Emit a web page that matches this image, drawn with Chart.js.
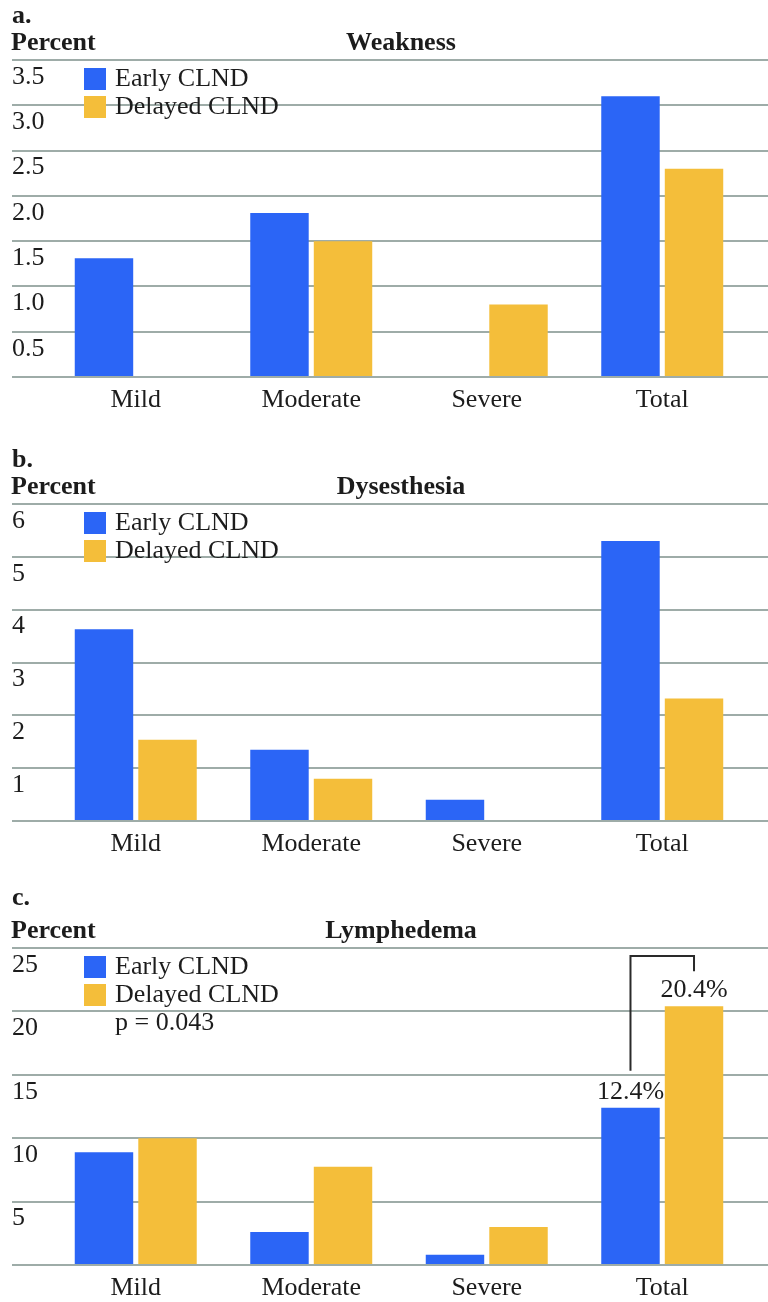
<!DOCTYPE html>
<html>
<head>
<meta charset="utf-8">
<script src="https://cdn.jsdelivr.net/npm/chart.js@4/dist/chart.umd.min.js"></script>
<style>
  html, body { margin: 0; padding: 0; background: #ffffff; width: 768px; height: 1302px; overflow: hidden; }
  canvas { display: block; }
</style>
</head>
<body>
<canvas id="weakness" width="768" height="444"></canvas>
<canvas id="dysesthesia" width="768" height="444"></canvas>
<canvas id="lymphedema" width="768" height="444"></canvas>
<script>
// Shared categories and series names
const categories = ['Mild', 'Moderate', 'Severe', 'Total'];
const seriesNames = ['Early CLND', 'Delayed CLND'];

// a. Weakness (percent)
const weaknessEarly   = [1.31, 1.81, null, 3.1];
const weaknessDelayed = [null, 1.5, 0.8, 2.3];
const weaknessTicks   = [0, 0.5, 1.0, 1.5, 2.0, 2.5, 3.0, 3.5];

// b. Dysesthesia (percent)
const dysesthesiaEarly   = [3.63, 1.35, 0.4, 5.3];
const dysesthesiaDelayed = [1.54, 0.8, null, 2.32];
const dysesthesiaTicks   = [0, 1, 2, 3, 4, 5, 6];

// c. Lymphedema (percent)
const lymphedemaEarly   = [8.9, 2.6, 0.8, 12.4];
const lymphedemaDelayed = [10.0, 7.75, 3.0, 20.4];
const lymphedemaTicks   = [0, 5, 10, 15, 20, 25];
const lymphedemaPValue  = 'p = 0.043';

const SERIF = "'Liberation Serif', 'Times New Roman', serif";
const TEXT = '#1c1c1c';
const BLUE = '#2b65f6';
const GOLD = '#f4be3a';
const GRID = '#9eaca8';
const FS = 26;

Chart.defaults.font.family = SERIF;
Chart.defaults.font.size = FS;
Chart.defaults.color = TEXT;

// Panel letter, axis caption, title, in-plot legend, note and the bracketed comparison
const panelDecor = {
  id: 'panelDecor',
  afterDraw(chart, args, opts) {
    const { ctx, chartArea: a } = chart;
    ctx.save();
    ctx.fillStyle = TEXT;
    ctx.textBaseline = 'alphabetic';
    ctx.font = `bold ${FS}px ${SERIF}`;
    ctx.textAlign = 'left';
    ctx.fillText(opts.letter, 12, opts.letterY);
    ctx.fillText('Percent', 11, 50);
    ctx.textAlign = 'center';
    ctx.fillText(opts.title, (a.left + a.right) / 2 + 2, 50);

    ctx.font = `${FS}px ${SERIF}`;
    ctx.textAlign = 'left';
    chart.data.datasets.forEach((ds, i) => {
      const top = a.top + 8 + i * 28;
      ctx.fillStyle = ds.backgroundColor;
      ctx.fillRect(a.left + 36, top, 22, 22);
      ctx.fillStyle = TEXT;
      ctx.fillText(ds.label, a.left + 67, top + 18);
    });
    if (opts.note) {
      ctx.fillText(opts.note, a.left + 67, a.top + 82);
    }

    if (opts.bracket) {
      const idx = categories.length - 1;
      const bars = [chart.getDatasetMeta(0).data[idx], chart.getDatasetMeta(1).data[idx]];
      const vals = [chart.data.datasets[0].data[idx], chart.data.datasets[1].data[idx]];
      ctx.textAlign = 'center';
      bars.forEach((bar, i) => {
        ctx.fillText(vals[i].toFixed(1) + '%', bar.x, bar.y - 9);
      });
      const topY = a.top + 8;
      ctx.strokeStyle = '#2a2a2a';
      ctx.lineWidth = 2;
      ctx.beginPath();
      ctx.moveTo(bars[0].x, bars[0].y - 37);
      ctx.lineTo(bars[0].x, topY);
      ctx.lineTo(bars[1].x, topY);
      ctx.lineTo(bars[1].x, bars[1].y - 35);
      ctx.stroke();
    }
    ctx.restore();
  }
};

function makePanel(id, early, delayed, ticks, decimals, decor) {
  const min = ticks[0];
  const max = ticks[ticks.length - 1];
  const step = ticks[1] - ticks[0];
  return new Chart(document.getElementById(id), {
    type: 'bar',
    data: {
      labels: categories,
      datasets: [
        { label: seriesNames[0], data: early, backgroundColor: BLUE, borderWidth: 0 },
        { label: seriesNames[1], data: delayed, backgroundColor: GOLD, borderWidth: 0 }
      ]
    },
    options: {
      responsive: false,
      animation: false,
      devicePixelRatio: 1,
      categoryPercentage: 0.724,
      barPercentage: 0.92,
      layout: { padding: { top: 60, left: 12, right: 0, bottom: 0 } },
      plugins: {
        legend: { display: false },
        tooltip: { enabled: false },
        panelDecor: decor
      },
      scales: {
        x: {
          grid: { display: false, drawTicks: false },
          border: { display: false },
          ticks: { padding: 8, color: TEXT, font: { size: FS } },
          afterFit(s) { s.height = 67; }
        },
        y: {
          min, max,
          grid: { color: GRID, lineWidth: 2, tickLength: 36, drawTicks: true },
          border: { display: false },
          ticks: {
            stepSize: step,
            crossAlign: 'far',
            labelOffset: 17,
            padding: 0,
            color: TEXT,
            font: { size: FS },
            callback: (v) => v === 0 ? '' : v.toFixed(decimals)
          },
          afterFit(s) { s.width = 36; }
        },
        yR: {
          type: 'linear',
          position: 'right',
          min, max,
          grid: { color: GRID, lineWidth: 2, tickLength: 18, drawOnChartArea: false, drawTicks: true },
          border: { display: false },
          ticks: { stepSize: step, display: false },
          afterFit(s) { s.width = 18; }
        }
      }
    },
    plugins: [panelDecor]
  });
}

makePanel('weakness', weaknessEarly, weaknessDelayed, weaknessTicks, 1,
  { letter: 'a.', letterY: 23, title: 'Weakness' });
makePanel('dysesthesia', dysesthesiaEarly, dysesthesiaDelayed, dysesthesiaTicks, 0,
  { letter: 'b.', letterY: 23, title: 'Dysesthesia' });
makePanel('lymphedema', lymphedemaEarly, lymphedemaDelayed, lymphedemaTicks, 0,
  { letter: 'c.', letterY: 17, title: 'Lymphedema', note: lymphedemaPValue, bracket: true });
</script>
</body>
</html>
